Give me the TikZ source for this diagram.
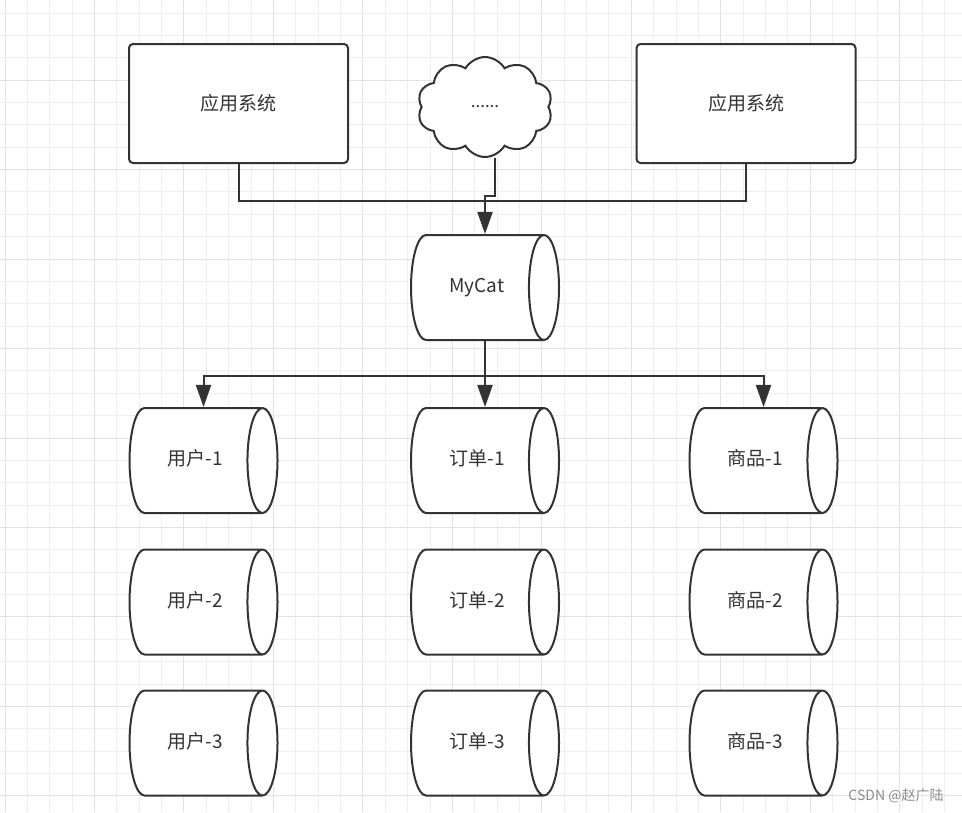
\documentclass[tikz,border=0pt]{standalone}
\usepackage{fontspec}
\newfontfamily\cjk{Noto Sans CJK SC}
\usetikzlibrary{calc,shapes.geometric,shapes.symbols,arrows.meta,positioning}
\definecolor{linegrey}{HTML}{333333}
\definecolor{textgrey}{HTML}{333333}
\definecolor{gridminor}{HTML}{EEEEEE}
\definecolor{gridmajor}{HTML}{E2E2E2}
\definecolor{markgrey}{HTML}{8C8C8C}

\begin{document}
\begin{tikzpicture}[x=1pt,y=-1pt]

\tikzset{appbox/.style={draw=linegrey,line width=2pt,rounded corners=4pt,fill=white,
  minimum width=219pt,minimum height=119pt,text=textgrey,font=\cjk\fontsize{19}{19}\selectfont},
dbnode/.style={cylinder,draw=linegrey,line width=2pt,fill=white,aspect=1.67,
  minimum width=105pt,minimum height=148pt,inner sep=0pt,text height=14pt,text depth=4pt,
  text=textgrey,font=\cjk\fontsize{19}{19}\selectfont},
conn/.style={draw=linegrey,line width=2pt},
arr/.style={conn,-{Triangle[length=22pt,width=15pt]}}}

% Background and grid
\fill[white] (0,0) rectangle (962,812);
\useasboundingbox (0,0) rectangle (962,812);
\foreach \i in {0,...,42} {
  \pgfmathtruncatemacro\m{mod(\i,4)}
  \ifnum\m=0 \def\gc{gridmajor}\else \def\gc{gridminor}\fi
  \draw[\gc,line width=1pt] ({5+22.37*\i},0) -- ({5+22.37*\i},812);
}
\foreach \j in {0,...,36} {
  \pgfmathtruncatemacro\m{mod(\j,4)}
  \ifnum\m=3 \def\gc{gridmajor}\else \def\gc{gridminor}\fi
  \draw[\gc,line width=1pt] (0,{13+22.37*\j}) -- (962,{13+22.37*\j});
}

% Application systems
\node[appbox] (appL) at (238.5,103.5) {应用系统};
\node[appbox] (appR) at (746,103.5) {应用系统};
\node[cloud,cloud puffs=10,cloud puff arc=120,aspect=1.35,draw=linegrey,line width=2pt,fill=white,
  minimum width=135pt,minimum height=100pt,text=textgrey,font=\cjk\fontsize{17}{17}\selectfont] (etc) at (485,107) {......};

% Middleware
\node[dbnode] (mycat) at (477,287.5) {MyCat};
\coordinate (catTop) at (mycat.north -| mycat.shape center);
\coordinate (catBot) at (mycat.south -| mycat.shape center);

% Data nodes
\foreach \col/\x/\lab in {user/195.5/用户, order/477/订单, goods/755.5/商品}
  \foreach \row/\y in {1/460.5, 2/602, 3/743}
    \node[dbnode] (\col\row) at (\x,\y) {\lab-\row};

%% Edges
\draw[conn] (appL.south) -- ++(0,37) -| (appR.south);
\draw[arr] ([xshift=10pt]etc.south) |- ($(catTop)+(0,-38)$) -- (catTop);
\draw[conn] (catBot) -- ++(0,35) coordinate (busB);
\foreach \t in {user1, order1, goods1}
  \draw[arr] (busB) -| (\t.north -| \t.shape center);

% Watermark
\node[text=markgrey,font=\cjk\fontsize{14}{14}\selectfont] (mark) at (896,796) {CSDN @赵广陆};
\end{tikzpicture}
\end{document}
